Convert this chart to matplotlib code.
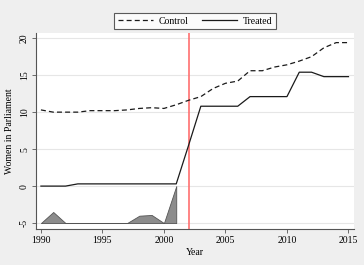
import matplotlib
matplotlib.use("Agg")
import matplotlib.pyplot as plt

years = list(range(1990, 2016))
control = [10.3, 10.0, 10.0, 10.0, 10.2, 10.2, 10.2, 10.3, 10.5, 10.6, 10.5, 11.0,
           11.6, 12.1, 13.2, 13.9, 14.2, 15.6, 15.6, 16.1, 16.4, 16.9, 17.5, 18.7, 19.4, 19.4]
treated = [0.0, 0.0, 0.0, 0.3, 0.3, 0.3, 0.3, 0.3, 0.3, 0.3, 0.3, 0.3,
           5.5, 10.8, 10.8, 10.8, 10.8, 12.1, 12.1, 12.1, 12.1, 15.4, 15.4, 14.8, 14.8, 14.8]
gap_years = list(range(1990, 2002))
gap = [-5.0, -3.5, -5.0, -5.0, -5.0, -5.0, -5.0, -5.0, -4.0, -3.9, -5.0, 0.0]
treat_year = 2002
yticks = [-5, 0, 5, 10, 15, 20]
xticks = [1990, 1995, 2000, 2005, 2010, 2015]

plt.rcParams['font.family'] = ['Liberation Serif', 'DejaVu Serif']
bg = '#efefef'
fig = plt.figure(figsize=(3.64, 2.65), dpi=100, facecolor=bg)
ax = fig.add_axes([36/364, 1-229/265, (354-36)/364, (229-33)/265])
ax.set_facecolor('white')

for y in yticks:
    ax.axhline(y, color='#e6e6e6', lw=0.8, zorder=0)

ax.fill_between(gap_years, -5, gap, color='#8c8c8c', edgecolor='#555555', lw=0.6, zorder=1)
ax.plot(years, control, color='#1a1a1a', lw=0.9, ls=(0, (4, 2.5)), label='Control', zorder=3)
ax.plot(years, treated, color='#1a1a1a', lw=0.9, label='Treated', zorder=3)
ax.axvline(treat_year, color='#ff7070', lw=1.2, zorder=2)

ax.set_xlim(1989.6, 2015.45)
ax.set_ylim(-5.8, 20.7)
ax.set_xticks(xticks)
ax.set_yticks(yticks)
ax.set_yticklabels([str(v) for v in yticks], rotation=90, va='center')
ax.tick_params(labelsize=7, length=3, width=0.6, color='#555555', pad=2)
for s in ['top', 'right']:
    ax.spines[s].set_visible(False)
for s in ['left', 'bottom']:
    ax.spines[s].set_color('#555555')
    ax.spines[s].set_linewidth(0.8)
ax.set_xlabel('Year', fontsize=7, labelpad=2)
ax.set_ylabel('Women in Parliament', fontsize=7, labelpad=4)

leg = fig.legend(loc='center', bbox_to_anchor=(195/364, 1-21/265), ncol=2,
                 fontsize=7, frameon=True, fancybox=False, edgecolor='#333333',
                 handlelength=3.6, columnspacing=1.4, borderpad=0.35, handletextpad=0.6,
                 borderaxespad=0)
leg.get_frame().set_linewidth(0.8)
leg.get_frame().set_facecolor('white')

fig.savefig('out.png', dpi=100, facecolor=bg)
